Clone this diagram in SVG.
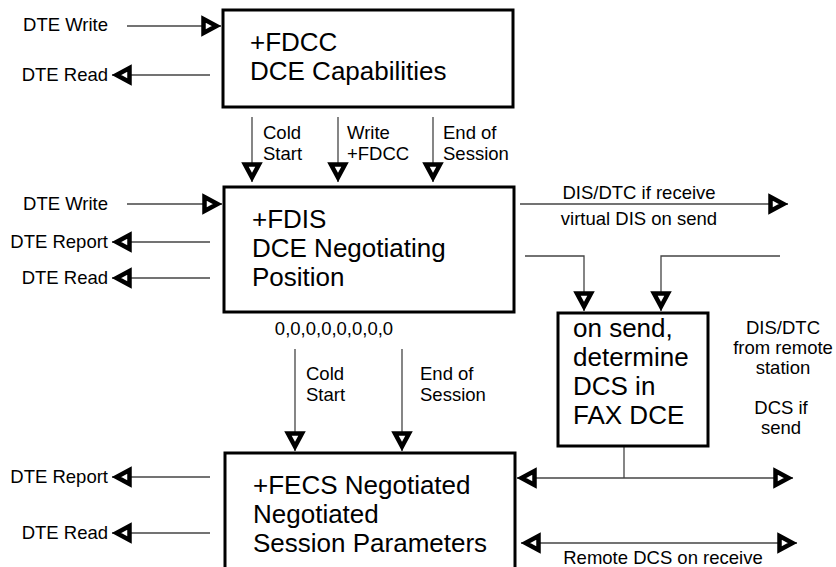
<svg xmlns="http://www.w3.org/2000/svg" width="836" height="567" viewBox="0 0 836 567">
<defs>
<style>
.box{fill:#fff;stroke:#000;stroke-width:3}
.big{font-family:"Liberation Sans",Arial,sans-serif;font-size:26px;fill:#000}
.sm{font-family:"Liberation Sans",Arial,sans-serif;font-size:18.5px;fill:#000}
.mid{text-anchor:middle}
.end{text-anchor:end}
.c{fill:none;stroke:#444;stroke-width:1.3}
.a{marker-end:url(#ah)}
.b{marker-start:url(#ah);marker-end:url(#ah)}
</style>
<marker id="ah" viewBox="-5 -13 26 26" refX="17.5" refY="0" markerWidth="26" markerHeight="26" orient="auto-start-reverse" markerUnits="userSpaceOnUse" overflow="visible">
<path d="M0,-7 L13,0 L0,7 Z" fill="#fff" stroke="#000" stroke-width="4.5"/>
</marker>
</defs>
<rect width="836" height="567" fill="#fff"/>

<g id="connectors">
<path class="c a" d="M127,26 H221"/>
<path class="c a" d="M210,75 H112"/>
<path class="c a" d="M252,117 V182"/>
<path class="c a" d="M338,117 V182"/>
<path class="c a" d="M433,117 V182"/>
<path class="c a" d="M127,204 H222"/>
<path class="c a" d="M210,242 H112"/>
<path class="c a" d="M210,278 H112"/>
<path class="c a" d="M520,204 H788"/>
<path class="c a" d="M525,256 H584 V311"/>
<path class="c a" d="M780,256 H661 V311"/>
<path class="c a" d="M295,349 V451"/>
<path class="c a" d="M402,349 V451"/>
<path class="c a" d="M210,477 H112"/>
<path class="c a" d="M210,533 H112"/>
<path class="c b" d="M517,478 H793"/>
<path class="c" d="M624,447 V478"/>
<path class="c b" d="M521,543 H797"/>
</g>

<g id="labels">
<text class="sm end" x="108" y="31">DTE Write</text>
<text class="sm end" x="108" y="81">DTE Read</text>
<text class="sm" x="263" y="139">Cold</text>
<text class="sm" x="263" y="160">Start</text>
<text class="sm" x="347" y="139">Write</text>
<text class="sm" x="347" y="160">+FDCC</text>
<text class="sm" x="443" y="139">End of</text>
<text class="sm" x="443" y="160">Session</text>
<text class="sm end" x="108" y="210">DTE Write</text>
<text class="sm end" x="108" y="248">DTE Report</text>
<text class="sm end" x="108" y="284">DTE Read</text>
<text class="sm mid" x="639" y="199">DIS/DTC if receive</text>
<text class="sm mid" x="639" y="225">virtual DIS on send</text>
<text class="sm mid" x="334" y="335">0,0,0,0,0,0,0,0</text>
<text class="sm" x="306" y="380">Cold</text>
<text class="sm" x="306" y="401">Start</text>
<text class="sm" x="420" y="380">End of</text>
<text class="sm" x="420" y="401">Session</text>
<text class="sm mid" x="783" y="334">DIS/DTC</text>
<text class="sm mid" x="783" y="354">from remote</text>
<text class="sm mid" x="783" y="374">station</text>
<text class="sm mid" x="781" y="414">DCS if</text>
<text class="sm mid" x="781" y="434">send</text>
<text class="sm end" x="108" y="483">DTE Report</text>
<text class="sm end" x="108" y="539">DTE Read</text>
<text class="sm mid" x="663" y="564">Remote DCS on receive</text>
</g>

<g id="fdcc">
<rect class="box" x="223" y="10" width="290" height="97"/>
<text class="big" x="250" y="51">+FDCC</text>
<text class="big" x="250" y="80">DCE Capabilities</text>
</g>

<g id="fdis">
<rect class="box" x="224" y="187" width="290" height="125"/>
<text class="big" x="252" y="228">+FDIS</text>
<text class="big" x="252" y="257">DCE Negotiating</text>
<text class="big" x="252" y="286">Position</text>
</g>

<g id="dcs">
<rect class="box" x="558" y="313" width="150" height="133"/>
<text class="big" x="573" y="337">on send,</text>
<text class="big" x="573" y="366">determine</text>
<text class="big" x="573" y="395">DCS in</text>
<text class="big" x="573" y="424">FAX DCE</text>
</g>

<g id="fecs">
<rect class="box" x="225" y="453" width="290" height="130"/>
<text class="big" x="253" y="494">+FECS Negotiated</text>
<text class="big" x="253" y="523">Negotiated</text>
<text class="big" x="253" y="552">Session Parameters</text>
</g>
</svg>
